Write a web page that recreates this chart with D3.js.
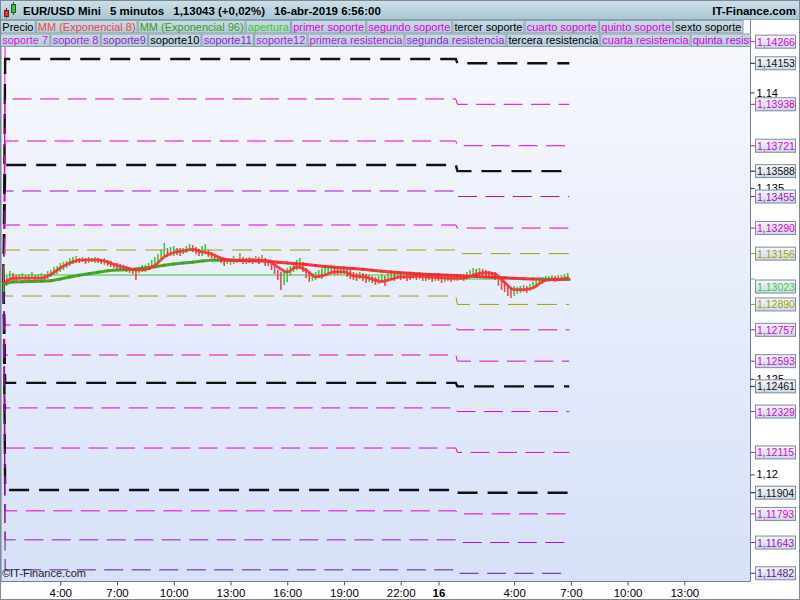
<!DOCTYPE html>
<html><head><meta charset="utf-8">
<script src="https://cdn.jsdelivr.net/npm/d3@7"></script>
<style>
html,body{margin:0;padding:0;background:#fff;}
svg{display:block;font-family:"Liberation Sans",Arial,sans-serif;}
</style></head><body>
<svg id="c" width="800" height="600"></svg>
<script>
// ---------------- DATA ----------------
const titleParts = ["EUR/USD Mini", "5 minutos", "1,13043 (+0,02%)", "16-abr-2019 6:56:00"];
const brand = "IT-Finance.com";
const copyright = "©IT-Finance.com";

const legendRow1 = ["Precio","MM (Exponencial 8)","MM (Exponencial 96)","apertura","primer soporte","segundo soporte","tercer soporte","cuarto soporte","quinto soporte","sexto soporte"];
const legendRow1Colors = ["#000000","#f04646","#3a9c22","#3ccc2a","#e000e0","#e000e0","#000000","#e000e0","#e000e0","#000000"];
const legendRow2 = ["soporte 7","soporte 8","soporte9","soporte10","soporte11","soporte12","primera resistencia","segunda resistencia","tercera resistencia","cuarta resistencia","quinta resistencia"];
const legendRow2Colors = ["#d818e0","#a824d8","#8c28c8","#000000","#9c20d4","#b41cdc","#b41cdc","#a020d8","#000000","#e000e0","#d000e0"];

// level lines: value on 15-abr session and on 16-abr session
const levelPrev = [1.14290,1.14175,1.13966,1.13746,1.13620,1.13484,1.13306,1.13175,1.13044,1.12934,1.12782,1.12625,1.12479,1.12348,1.12138,1.11918,1.11809,1.11657,1.11500];
const levelLast = [1.14266,1.14153,1.13938,1.13721,1.13588,1.13455,1.13290,1.13156,1.13023,1.12890,1.12757,1.12593,1.12461,1.12329,1.12115,1.11904,1.11793,1.11643,1.11482];
const levelKind = ["m","k","m","m","k","p","m","o","g","o","m","m","k","m","m","k","m","p","q"];
const levelStartValue = 1.12997;

// price bars, every 10 minutes from 15-abr 1:00
const barHigh = [
1.13008,1.13039,1.13065, 1.13055,1.13044,1.13049, 1.13055,1.13044,1.13049, 1.13060,1.13044,1.13049,
1.13055,1.13049,1.13065, 1.13070,1.13086,1.13091, 1.13107,1.13112,1.13118, 1.13133,1.13139,1.13144,
1.13133,1.13139,1.13133, 1.13139,1.13133,1.13139, 1.13133,1.13128,1.13133, 1.13123,1.13118,1.13107,
1.13107,1.13102,1.13097, 1.13091,1.13086,1.13081, 1.13081,1.13086,1.13097, 1.13097,1.13107,1.13123,
1.13139,1.13154,1.13175, 1.13212,1.13186,1.13191, 1.13196,1.13186,1.13186, 1.13186,1.13196,1.13207,
1.13201,1.13191,1.13180, 1.13196,1.13207,1.13175, 1.13165,1.13154,1.13144, 1.13139,1.13133,1.13128,
1.13133,1.13144,1.13128, 1.13159,1.13139,1.13133, 1.13139,1.13133,1.13144, 1.13139,1.13149,1.13133,
1.13123,1.13112,1.13091, 1.13070,1.13060,1.13070, 1.13081,1.13091,1.13112, 1.13123,1.13133,1.13112,
1.13081,1.13060,1.13055, 1.13060,1.13070,1.13081, 1.13081,1.13091,1.13097, 1.13091,1.13081,1.13086,
1.13091,1.13076,1.13070, 1.13060,1.13055,1.13060, 1.13055,1.13049,1.13044, 1.13039,1.13034,1.13039,
1.13049,1.13039,1.13055, 1.13060,1.13055,1.13065, 1.13055,1.13060,1.13055, 1.13049,1.13060,1.13055,
1.13060,1.13055,1.13049, 1.13055,1.13049,1.13055, 1.13044,1.13049,1.13044, 1.13049,1.13039,1.13044,
1.13044,1.13049,1.13049, 1.13060,1.13070,1.13081, 1.13076,1.13081,1.13076, 1.13070,1.13065,1.13060,
1.13060,1.13039,1.13018, 1.13008,1.12992,1.12976, 1.12987,1.12981,1.12987, 1.12992,1.12987,1.12997,
1.13008,1.13018,1.13023, 1.13034,1.13039,1.13039, 1.13044,1.13039,1.13044, 1.13044,1.13049,1.13055];
const barLow = [
1.12955,1.12987,1.13013, 1.13008,1.13013,1.13018, 1.13023,1.13013,1.13008, 1.13023,1.13018,1.13013,
1.13013,1.13018,1.13023, 1.13034,1.13044,1.13049, 1.13060,1.13070,1.13081, 1.13091,1.13102,1.13107,
1.13107,1.13112,1.13102, 1.13107,1.13112,1.13107, 1.13107,1.13102,1.13097, 1.13091,1.13086,1.13081,
1.13076,1.13070,1.13065, 1.13060,1.13055,1.13049, 1.13018,1.13055,1.13060, 1.13060,1.13070,1.13081,
1.13091,1.13107,1.13123, 1.13144,1.13139,1.13144, 1.13144,1.13149,1.13144, 1.13154,1.13159,1.13170,
1.13165,1.13154,1.13144, 1.13144,1.13154,1.13139, 1.13133,1.13123,1.13112, 1.13107,1.13091,1.13102,
1.13097,1.13102,1.13107, 1.13112,1.13102,1.13102, 1.13107,1.13102,1.13112, 1.13102,1.13112,1.13091,
1.13091,1.13070,1.13049, 1.13018,1.12966,1.12992, 1.13008,1.13039,1.13060, 1.13070,1.13081,1.13060,
1.13028,1.13008,1.13013, 1.13018,1.13028,1.13023, 1.13039,1.13049,1.13055, 1.13044,1.13044,1.13049,
1.13049,1.13034,1.13023, 1.13018,1.13013,1.13023, 1.13013,1.13002,1.13008, 1.13002,1.12992,1.12997,
1.13008,1.12987,1.13013, 1.13018,1.13013,1.13023, 1.13018,1.13023,1.13013, 1.13018,1.13023,1.13018,
1.13023,1.13013,1.13013, 1.13018,1.13008,1.13013, 1.13013,1.13002,1.13008, 1.13013,1.13008,1.13013,
1.13013,1.13018,1.13013, 1.13023,1.13034,1.13039, 1.13034,1.13039,1.13039, 1.13034,1.13028,1.13023,
1.13018,1.12987,1.12966, 1.12955,1.12934,1.12924, 1.12934,1.12945,1.12950, 1.12955,1.12950,1.12961,
1.12971,1.12981,1.12992, 1.12997,1.13008,1.13008, 1.13013,1.13008,1.13013, 1.13013,1.13018,1.13018];

// moving averages, every 30 minutes from 15-abr 1:00, last value at 16-abr 6:55
const ema8 = [
1.12997,1.13027,1.13028,1.13028,1.13028,1.13047,1.13081,1.13107,1.13122,1.13123,
1.13123,1.13112,1.13094,1.13081,1.13070,1.13073,1.13094,1.13139,1.13162,1.13170,
1.13178,1.13165,1.13154,1.13133,1.13122,1.13119,1.13123,1.13121,1.13118,1.13086,
1.13060,1.13086,1.13070,1.13034,1.13044,1.13061,1.13061,1.13039,1.13035,1.13023,
1.13010,1.13023,1.13034,1.13035,1.13039,1.13032,1.13031,1.13027,1.13027,1.13031,
1.13049,1.13056,1.13049,1.13005,1.12968,1.12968,1.12976,1.13010,1.13021,1.13022,
1.13030];
const ema96 = [
1.12997,1.13008,1.13009,1.13010,1.13012,1.13014,1.13023,1.13034,1.13043,1.13051,
1.13058,1.13066,1.13070,1.13072,1.13076,1.13081,1.13087,1.13095,1.13102,1.13107,
1.13111,1.13118,1.13122,1.13123,1.13122,1.13121,1.13119,1.13118,1.13116,1.13111,
1.13107,1.13103,1.13099,1.13094,1.13089,1.13085,1.13081,1.13078,1.13074,1.13069,
1.13064,1.13060,1.13056,1.13053,1.13049,1.13047,1.13045,1.13043,1.13041,1.13038,
1.13036,1.13034,1.13032,1.13030,1.13027,1.13025,1.13023,1.13022,1.13022,1.13021,
1.13021];

const axisPriceTicks = [1.12, 1.125, 1.135, 1.14];
const axisTimeTicks = [
  new Date(2019,3,15,4,0), new Date(2019,3,15,7,0), new Date(2019,3,15,10,0), new Date(2019,3,15,13,0),
  new Date(2019,3,15,16,0), new Date(2019,3,15,19,0), new Date(2019,3,15,22,0), new Date(2019,3,16,0,0),
  new Date(2019,3,16,4,0), new Date(2019,3,16,7,0), new Date(2019,3,16,10,0), new Date(2019,3,16,13,0)];

const session1 = new Date(2019,3,15,1,0);
const session2 = new Date(2019,3,16,1,0);
const lastBar = new Date(2019,3,16,6,55);

// ---------------- RENDER ----------------
const MIN = 60000;
const svg = d3.select("#c");
const P = {l:1, r:750.5, t:20, b:581.5};
const x = d3.scaleTime().domain([new Date(2019,3,15,0,55), new Date(2019,3,16,16,30)]).range([2, 750.5]);
const y = d3.scaleLinear().domain([1.1145, 1.1439]).range([579.4, 18]);

const defs = svg.append("defs");
function vgrad(id, c1, c2){
  const g = defs.append("linearGradient").attr("id",id).attr("x1",0).attr("y1",0).attr("x2",0).attr("y2",1);
  g.append("stop").attr("offset","0%").attr("stop-color",c1);
  g.append("stop").attr("offset","100%").attr("stop-color",c2);
}
vgrad("bgG","#f8f9fe","#d6e0f7");
vgrad("headG","#cfe1ea","#a9c5d3");
vgrad("legG","#c9dce6","#b2cad7");
vgrad("boxG","#f6f8fc","#cad7e6");
defs.append("clipPath").attr("id","plotClip").append("rect")
  .attr("x",P.l).attr("y",P.t).attr("width",P.r-P.l).attr("height",P.b-P.t);
defs.append("clipPath").attr("id","legClip").append("rect")
  .attr("x",0).attr("y",0).attr("width",P.r).attr("height",60);

svg.append("rect").attr("width",800).attr("height",600).attr("fill","#ffffff");
svg.append("rect").attr("x",P.l).attr("y",P.t).attr("width",P.r-P.l).attr("height",P.b-P.t).attr("fill","url(#bgG)");

const plot = svg.append("g").attr("clip-path","url(#plotClip)");

// level lines
const kindStyle = {
  m:{c:"#dd00dd", w:1, d:"19,8.5"},
  p:{c:"#a010d0", w:1, d:"19,8.5"},
  q:{c:"#6a14a8", w:1, d:"19,8.5"},
  k:{c:"#111111", w:2.4, d:"20,10"},
  o:{c:"#a0a000", w:1, d:"20,9"},
  g:{c:"#33cc33", w:1, d:null}
};
const line = d3.line().x(d=>x(d[0])).y(d=>y(d[1]));
levelLast.forEach((v,i)=>{
  const st = kindStyle[levelKind[i]];
  const pts = [];
  if (levelKind[i] !== "g") pts.push([session1, levelStartValue]);
  pts.push([new Date(+session1 + 5*MIN), levelPrev[i]]);
  pts.push([new Date(+session2 - 5*MIN), levelPrev[i]]);
  pts.push([session2, v]);
  pts.push([lastBar, v]);
  plot.append("path").attr("d",line(pts)).attr("fill","none")
    .attr("stroke",st.c).attr("stroke-width",st.w)
    .attr("stroke-dasharray",st.d);
});

// price bars
const barTime = i => new Date(+session1 + i*10*MIN);
barHigh.forEach((h,i)=>{
  const mid = (h+barLow[i])/2;
  const prev = i>0 ? (barHigh[i-1]+barLow[i-1])/2 : mid - 1;
  const up = mid >= prev;
  const bx = x(barTime(i));
  plot.append("line").attr("x1",bx).attr("x2",bx)
    .attr("y1",y(h)).attr("y2",y(barLow[i]))
    .attr("stroke", up ? "#3ec83e" : "#e8484f").attr("stroke-width",1.6);
});

// moving averages
const emaTime = (i,n) => i < n-1 ? new Date(+session1 + i*30*MIN) : lastBar;
const e96 = ema96.map((v,i)=>[emaTime(i,ema96.length), v]);
for (let i=0;i<e96.length-1;i++){
  const up = e96[i+1][1] >= e96[i][1];
  plot.append("path").attr("d",line([e96[i],e96[i+1]])).attr("fill","none")
    .attr("stroke", up ? "#3c9e1c" : "#ee2a2a").attr("stroke-width",3).attr("stroke-linecap","round")
    .attr("opacity",0.92);
}
const e8 = ema8.map((v,i)=>[emaTime(i,ema8.length), v]);
plot.append("path").attr("d",line.curve(d3.curveMonotoneX)(e8)).attr("fill","none")
  .attr("stroke","#ff2c2c").attr("stroke-width",2.8).attr("stroke-linejoin","round").attr("opacity",0.9);
line.curve(d3.curveLinear);

// copyright
svg.append("text").attr("x",2).attr("y",577).attr("font-size",11).attr("fill","#222").text(copyright);

// plot frame
svg.append("line").attr("x1",P.l).attr("x2",P.l).attr("y1",P.t).attr("y2",P.b).attr("stroke","#6f8090");
svg.append("line").attr("x1",P.l).attr("x2",P.r).attr("y1",P.b).attr("y2",P.b).attr("stroke","#6f8090");
svg.append("line").attr("x1",P.r).attr("x2",P.r).attr("y1",P.t).attr("y2",P.b).attr("stroke","#6f8090");

// right axis
const ya = svg.append("g").attr("transform",`translate(${P.r},0)`)
  .call(d3.axisRight(y).tickValues(axisPriceTicks).tickSize(4).tickPadding(2)
    .tickFormat(d=>d3.format(".3~f")(d).replace(".",",")));
ya.select(".domain").remove();
ya.selectAll("text").attr("font-size",11).attr("font-family","Liberation Sans, Arial, sans-serif").attr("fill","#000");
ya.selectAll("line").attr("stroke","#333");

// level labels
levelLast.forEach((v,i)=>{
  const st = kindStyle[levelKind[i]];
  const yy = y(v);
  const by = levelKind[i] === "g" ? yy + 1 : yy - 6.5;   // opening label sits just below its tick
  svg.append("line").attr("x1",P.r).attr("x2",755).attr("y1",yy).attr("y2",yy).attr("stroke",st.c);
  svg.append("rect").attr("x",755.5).attr("y",by).attr("width",40).attr("height",13)
    .attr("fill","url(#boxG)").attr("stroke","#7c8c9c");
  svg.append("text").attr("x",757).attr("y",by+10.5).attr("font-size",10.5).attr("fill",st.c)
    .text(d3.format(".5f")(v).replace(".",","));
});

// bottom axis
const xa = svg.append("g").attr("transform",`translate(0,${P.b})`)
  .call(d3.axisBottom(x).tickValues(axisTimeTicks).tickSize(4).tickPadding(3)
    .tickFormat(d => (d.getHours()===0 && d.getMinutes()===0) ? String(d.getDate()) : d3.timeFormat("%-H:%M")(d)));
xa.select(".domain").remove();
xa.selectAll("line").attr("stroke","#555");
xa.selectAll("text").attr("font-size",11.5).attr("font-family","Liberation Sans, Arial, sans-serif").attr("fill","#000")
  .attr("font-weight", d => (d.getHours()===0) ? "bold" : "normal");

// header
svg.append("rect").attr("x",0).attr("y",0).attr("width",800).attr("height",20).attr("fill","url(#headG)");
svg.append("line").attr("x1",0).attr("x2",800).attr("y1",19.5).attr("y2",19.5).attr("stroke","#8aa2b0");
// icon
svg.append("line").attr("x1",6.5).attr("x2",6.5).attr("y1",8).attr("y2",18).attr("stroke","#702020");
svg.append("rect").attr("x",4.5).attr("y",10.5).attr("width",4).attr("height",6).attr("fill","#e03434").attr("stroke","#702020");
svg.append("line").attr("x1",13.5).attr("x2",13.5).attr("y1",2).attr("y2",15).attr("stroke","#206020");
svg.append("rect").attr("x",11.5).attr("y",4.5).attr("width",4).attr("height",8).attr("fill","#36c436").attr("stroke","#206020");
let tx = 23;
titleParts.forEach(t=>{
  const el = svg.append("text").attr("x",tx).attr("y",15).attr("font-size",11.5).attr("font-weight","bold").attr("fill","#000").text(t);
  tx += el.node().getComputedTextLength() + 9;
});
svg.append("text").attr("x",796).attr("y",15).attr("text-anchor","end").attr("font-size",11.5).attr("font-weight","bold").attr("fill","#000").text(brand);

// legend rows
const legG = svg.append("g").attr("clip-path","url(#legClip)");
function measure(t){ const e = legG.append("text").attr("font-size",11).text(t); const w = e.node().getComputedTextLength(); e.remove(); return w; }
const w1 = legendRow1.map(t=>measure(t)+5);
const w2 = legendRow2.map(t=>measure(t)+5);
const s = 743.5 / d3.sum(w1);
function row(items, colors, widths, y0, h){
  let cx = 0;
  items.forEach((t,i)=>{
    const w = widths[i]*s;
    legG.append("rect").attr("x",cx+0.5).attr("y",y0+0.5).attr("width",w-1).attr("height",h-1)
      .attr("fill","url(#legG)").attr("stroke","#8aa0ad");
    legG.append("text").attr("x",cx+w/2).attr("y",y0+h-3).attr("text-anchor","middle")
      .attr("font-size",11).attr("fill",colors[i]).text(t);
    cx += w;
  });
}
row(legendRow1, legendRow1Colors, w1, 20, 13.5);
row(legendRow2, legendRow2Colors, w2, 33.5, 13.5);

// outer frame
svg.append("rect").attr("x",0.5).attr("y",0.5).attr("width",799).attr("height",599).attr("fill","none").attr("stroke","#7a8a99");
</script>
</body></html>
